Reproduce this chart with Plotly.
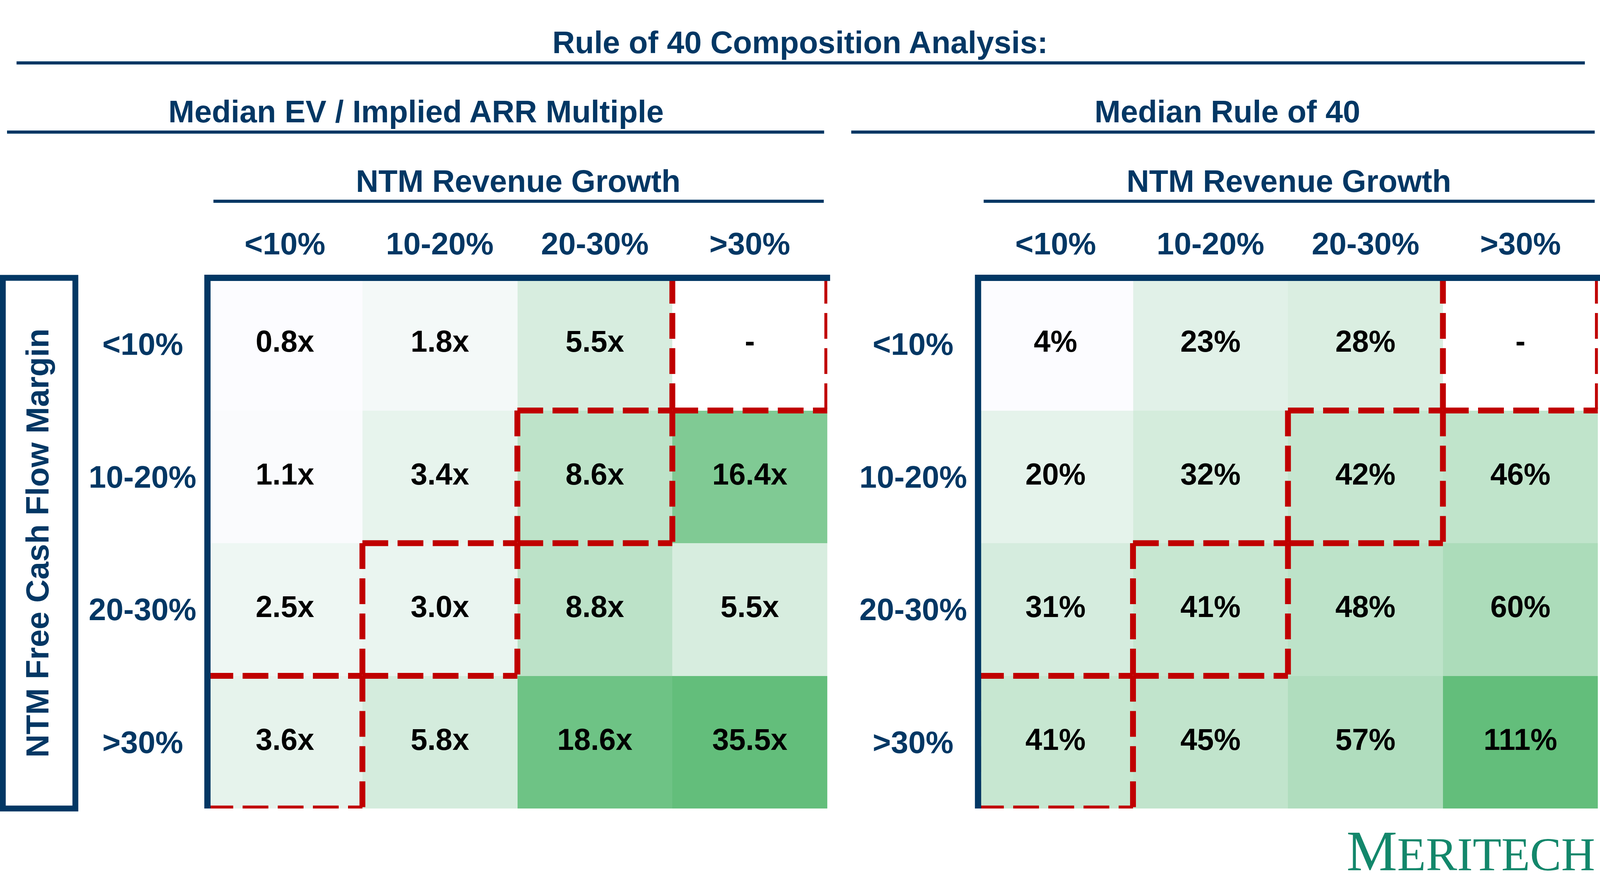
import plotly.graph_objects as go

# bucket labels
growth_buckets = ["<10%", "10-20%", "20-30%", ">30%"]
margin_buckets = ["<10%", "10-20%", "20-30%", ">30%"]

# median EV / implied ARR multiple (rows = FCF margin, cols = revenue growth)
ev_arr_multiple = [
    [0.8, 1.8, 5.5, None],
    [1.1, 3.4, 8.6, 16.4],
    [2.5, 3.0, 8.8, 5.5],
    [3.6, 5.8, 18.6, 35.5],
]

# median rule of 40 (%)
rule_of_40 = [
    [4, 23, 28, None],
    [20, 32, 42, 46],
    [31, 41, 48, 60],
    [41, 45, 57, 111],
]

# cells sitting on the 40% line (row, col)
rule40_cells = [(0, 3), (1, 2), (2, 1), (3, 0)]

# reference canvas, all positions below are in these pixel units
W, H = 4543, 2275
NAVY = "#023764"
RED = "#C00000"
GREEN = "#13876B"
FONT = "Liberation Sans, Arial, sans-serif"
SCALE = [[0, "#FCFCFF"], [1, "#63BE7B"]]


def px(x):
    return x / W


def py(y):
    return 1 - y / H


def fmt_multiple(v):
    return "-" if v is None else f"{v:.1f}x"


def fmt_pct(v):
    return "-" if v is None else f"{v:.0f}%"


fig = go.Figure()

panels = [
    # (values, formatter, xref, yref, zmin, zmax)
    (ev_arr_multiple, fmt_multiple, "x", "y", 0.8, 20),
    (rule_of_40, fmt_pct, "x2", "y2", 4, 111),
]

for vals, fmt, xr, yr, zmin, zmax in panels:
    fig.add_trace(go.Heatmap(
        z=vals, x=growth_buckets, y=margin_buckets,
        colorscale=SCALE, zmin=zmin, zmax=zmax, showscale=False,
        hoverinfo="skip", xaxis=xr, yaxis=yr,
    ))
    xs, ys, labels = [], [], []
    for i, m in enumerate(margin_buckets):
        for j, g in enumerate(growth_buckets):
            xs.append(g)
            ys.append(m)
            labels.append(fmt(vals[i][j]))
    fig.add_trace(go.Scatter(
        x=xs, y=ys, text=labels, mode="text", hoverinfo="skip",
        textfont=dict(family=FONT, size=77, color="black", weight="bold"),
        xaxis=xr, yaxis=yr, showlegend=False,
    ))

shapes = []
# red dashed boxes around the rule-of-40 cells
for xr, yr in [("x", "y"), ("x2", "y2")]:
    for r, c in rule40_cells:
        l, rt, t, b = c - 0.5, c + 0.5, r - 0.5, r + 0.5
        for x0, y0, x1, y1 in [(l, t, rt, t), (rt, t, rt, b), (l, b, rt, b), (l, t, l, b)]:
            shapes.append(dict(type="line", xref=xr, yref=yr, x0=x0, y0=y0, x1=x1, y1=y1,
                               line=dict(color=RED, width=15, dash="66px,24px")))


def hline(x0, x1, y, w):
    shapes.append(dict(type="line", xref="paper", yref="paper",
                       x0=px(x0), x1=px(x1), y0=py(y), y1=py(y),
                       line=dict(color=NAVY, width=w)))


def vline(x, y0, y1, w):
    shapes.append(dict(type="line", xref="paper", yref="paper",
                       x0=px(x), x1=px(x), y0=py(y0), y1=py(y1),
                       line=dict(color=NAVY, width=w)))


# header rules
hline(47, 4500, 161, 8)
hline(20, 2340, 338, 8)
hline(2417, 4528, 338, 8)
hline(606, 2339, 515, 8)
hline(2793, 4528, 515, 8)
# grid borders (top + left only)
hline(581, 2357, 711, 16)
vline(589, 703, 2069, 16)
hline(2769, 4543, 711, 16)
vline(2777, 703, 2069, 16)
# box around the vertical axis title
shapes.append(dict(type="rect", xref="paper", yref="paper",
                   x0=px(8), x1=px(214), y0=py(711), y1=py(2069),
                   line=dict(color=NAVY, width=15)))

annotations = []


def note(text, x, y, size=80, color=NAVY, xref="paper", yref="paper", **kw):
    annotations.append(dict(text=text, x=x, y=y, xref=xref, yref=yref,
                            xanchor="center", yanchor="middle", showarrow=False,
                            font=dict(family=FONT, size=size, color=color, weight="bold"), **kw))


note("Rule of 40 Composition Analysis:", px(2272), py(109))
note("Median EV / Implied ARR Multiple", px(1181), py(285))
note("Median Rule of 40", px(3485), py(285))
note("NTM Revenue Growth", px(1471), py(463))
note("NTM Revenue Growth", px(3660), py(463))
note("NTM Free Cash Flow Margin", px(105), py(1390), size=82, textangle=-90)

for xr, yr, row_x in [("x", "y", 405), ("x2", "y2", 2593)]:
    for g in growth_buckets:
        note(g, g, py(624), xref=xr)
    for m in margin_buckets:
        note(m, px(row_x), m, yref=yr)

# logo
annotations.append(dict(
    text="M<span style='font-size:120px'>ERITECH</span>",
    x=px(4531), y=py(2261), xref="paper", yref="paper", xanchor="right", yanchor="bottom",
    showarrow=False, font=dict(family="Liberation Serif, serif", size=146, color=GREEN),
))

axis_common = dict(visible=False, showgrid=False, zeroline=False, fixedrange=True)
fig.update_layout(
    autosize=True,
    margin=dict(l=0, r=0, t=0, b=0),
    paper_bgcolor="white", plot_bgcolor="white",
    showlegend=False,
    xaxis=dict(domain=[px(589), px(2349)], range=[-0.5, 3.5], anchor="y", **axis_common),
    yaxis=dict(domain=[py(2069), py(711)], range=[3.5, -0.5], anchor="x", **axis_common),
    xaxis2=dict(domain=[px(2777), px(4537)], range=[-0.5, 3.5], anchor="y2", **axis_common),
    yaxis2=dict(domain=[py(2069), py(711)], range=[3.5, -0.5], anchor="x2", **axis_common),
    shapes=shapes,
    annotations=annotations,
)

# let the figure fill the whole browser window
post = """
document.documentElement.style.height='100%';
document.body.style.height='100%';
document.body.style.margin='0';
document.body.style.overflow='hidden';
Plotly.Plots.resize(document.getElementById('{plot_id}'));
"""
fig.write_html("out.html", default_width="100%", default_height="100%",
               config={"responsive": True, "displayModeBar": False}, post_script=post)
